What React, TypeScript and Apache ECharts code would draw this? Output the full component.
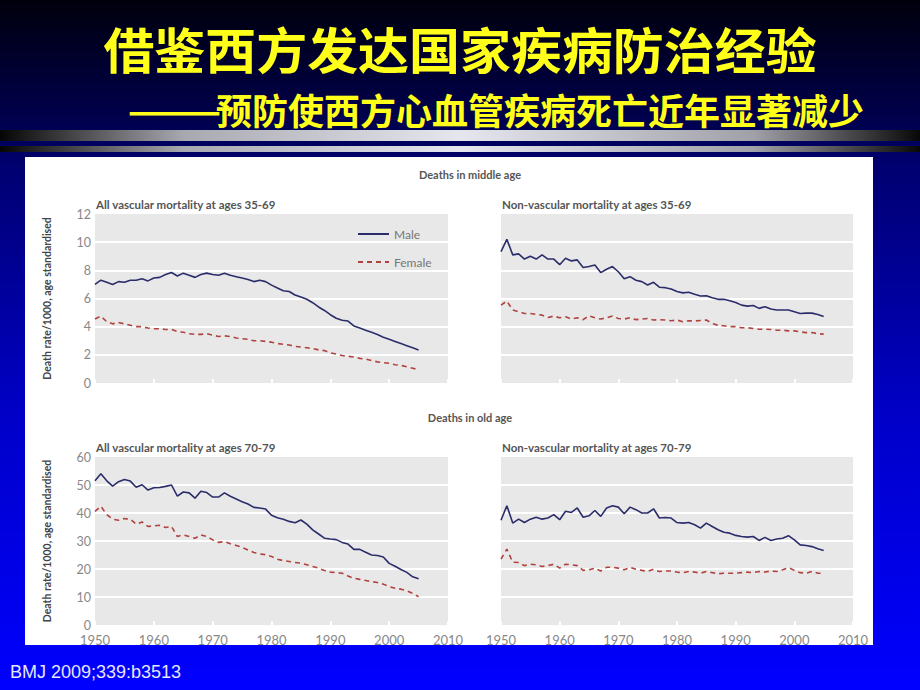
import React, { useEffect, useRef } from "react";
import * as echarts from "echarts";

const years: number[] = Array.from({ length: 56 }, (_, i) => 1950 + i);

const vascMidMale = [
  7.0, 7.3, 7.15, 7.0, 7.2, 7.15, 7.3, 7.3, 7.4, 7.25,
  7.45, 7.5, 7.7, 7.85, 7.6, 7.8, 7.65, 7.5, 7.7, 7.8,
  7.7, 7.65, 7.8, 7.65, 7.55, 7.45, 7.35, 7.2, 7.3, 7.2,
  6.95, 6.75, 6.55, 6.5, 6.25, 6.1, 5.95, 5.7, 5.4, 5.15,
  4.85, 4.6, 4.45, 4.4, 4.05, 3.9, 3.75, 3.6, 3.45, 3.25,
  3.1, 2.95, 2.8, 2.65, 2.5, 2.35,
];
const vascMidFemale = [
  4.55, 4.75, 4.35, 4.2, 4.3, 4.2, 4.1, 4.0, 4.0, 3.9,
  3.85, 3.85, 3.8, 3.8, 3.65, 3.6, 3.5, 3.45, 3.45, 3.5,
  3.4, 3.3, 3.35, 3.3, 3.2, 3.15, 3.1, 3.0, 3.0, 2.95,
  2.9, 2.8, 2.75, 2.7, 2.6, 2.55, 2.5, 2.45, 2.35, 2.3,
  2.15, 2.05, 1.95, 1.9, 1.85, 1.75, 1.7, 1.6, 1.5, 1.45,
  1.4, 1.3, 1.25, 1.15, 1.05, 0.95,
];
const nonvascMidMale = [
  9.33, 10.2, 9.1, 9.17, 8.8, 9.0, 8.8, 9.1, 8.8, 8.8,
  8.4, 8.86, 8.67, 8.74, 8.2, 8.27, 8.38, 7.84, 8.08, 8.27,
  7.9, 7.4, 7.55, 7.3, 7.2, 6.96, 7.15, 6.8, 6.77, 6.67,
  6.5, 6.4, 6.44, 6.3, 6.18, 6.2, 6.06, 5.94, 5.94, 5.84,
  5.72, 5.53, 5.46, 5.5, 5.3, 5.42, 5.25, 5.18, 5.18, 5.18,
  5.06, 4.94, 4.96, 4.96, 4.87, 4.73,
];
const nonvascMidFemale = [
  5.53, 5.82, 5.18, 5.06, 4.94, 4.94, 4.87, 4.82, 4.65, 4.75,
  4.63, 4.7, 4.54, 4.63, 4.5, 4.77, 4.63, 4.54, 4.63, 4.75,
  4.58, 4.54, 4.63, 4.5, 4.54, 4.58, 4.47, 4.5, 4.47, 4.42,
  4.47, 4.35, 4.42, 4.4, 4.44, 4.47, 4.23, 4.1, 4.06, 4.0,
  4.0, 3.92, 3.92, 3.87, 3.82, 3.82, 3.8, 3.75, 3.75, 3.7,
  3.7, 3.63, 3.58, 3.58, 3.5, 3.47,
];
const vascOldMale = [
  51.5, 54.0, 51.5, 49.6, 51.2, 52.0, 51.4, 49.2, 50.1, 48.2,
  49.0, 49.1, 49.5, 50.0, 46.0, 47.5, 47.2, 45.3, 47.8, 47.3,
  45.7, 45.7, 47.2, 46.0, 45.0, 44.0, 43.2, 42.0, 41.8, 41.4,
  39.2, 38.3, 37.8, 37.0, 36.5, 37.5, 36.0, 34.0, 32.5, 31.0,
  30.7, 30.5, 29.5, 28.9, 27.0, 27.0, 26.0, 25.0, 24.8, 24.3,
  22.0, 21.0, 19.8, 18.8, 17.2, 16.5,
];
const vascOldFemale = [
  40.6, 42.4, 39.4, 37.8, 37.4, 38.0, 37.8, 36.0, 36.8, 35.2,
  35.4, 35.6, 34.8, 35.2, 31.6, 32.2, 31.6, 31.0, 32.2, 31.6,
  30.4, 29.5, 29.8, 29.0, 28.4, 27.7, 26.8, 25.9, 25.4, 25.1,
  24.5, 23.5, 23.0, 22.7, 22.3, 22.1, 21.5, 20.9, 20.3, 19.5,
  18.9, 18.7, 18.5, 17.5, 16.7, 16.3, 15.9, 15.5, 15.2, 14.6,
  13.7, 13.1, 12.8, 12.2, 11.3, 10.1,
];
const nonvascOldMale = [
  37.4, 42.6, 36.4, 37.8, 36.6, 37.8, 38.5, 37.8, 38.2, 39.4,
  37.6, 40.6, 40.2, 41.8, 38.5, 39.0, 40.9, 38.8, 41.8, 42.6,
  42.1, 39.7, 42.1, 41.2, 40.0, 40.0, 41.5, 38.2, 38.4, 38.2,
  36.6, 36.4, 36.6, 35.8, 34.6, 36.4, 35.2, 34.0, 33.1, 32.8,
  32.0, 31.6, 31.4, 31.6, 30.2, 31.3, 30.2, 30.7, 31.0, 31.9,
  30.4, 28.6, 28.4, 28.0, 27.2, 26.6,
];
const nonvascOldFemale = [
  23.5, 27.1, 22.4, 22.3, 21.2, 21.7, 21.5, 20.9, 21.2, 21.7,
  20.3, 21.7, 21.5, 21.2, 19.5, 19.7, 20.3, 19.3, 20.6, 20.6,
  20.3, 19.7, 20.6, 19.9, 19.5, 19.1, 19.9, 19.1, 19.3, 19.3,
  18.9, 18.7, 19.1, 18.9, 18.5, 19.1, 18.7, 18.3, 18.5, 18.5,
  18.5, 18.7, 18.9, 18.7, 19.1, 18.9, 19.3, 19.1, 19.7, 20.5,
  19.5, 18.7, 18.5, 19.1, 18.5, 18.5,
];

const mainTitle = "借鉴西方发达国家疾病防治经验";
const subTitleDash = "——";
const subTitle = "预防使西方心血管疾病死亡近年显著减少";
const sectionTitles = ["Deaths in middle age", "Deaths in old age"];
const panelTitles = [
  "All vascular mortality at ages 35-69",
  "Non-vascular mortality at ages 35-69",
  "All vascular mortality at ages 70-79",
  "Non-vascular mortality at ages 70-79",
];
const yAxisTitle = "Death rate/1000, age standardised";
const citation = "BMJ 2009;339:b3513";

const MALE_COLOR = "#2b2d6b";
const FEMALE_COLOR = "#b0433f";
const FONT = "Lato";

const grids = [
  { left: 95, top: 214, width: 353, height: 169 },
  { left: 501, top: 214, width: 352, height: 169 },
  { left: 95, top: 457, width: 353, height: 168 },
  { left: 501, top: 457, width: 352, height: 168 },
];
const yMax = [12, 12, 60, 60];
const yInt = [2, 2, 10, 10];

const pairs = (vals: number[]) => years.map((y, i) => [y, vals[i]]);

export default function App() {
  const ref = useRef<HTMLDivElement>(null);
  useEffect(() => {
    if (!ref.current) return;
    const chart = echarts.init(ref.current, null, { renderer: "svg" });
    const seriesData = [
      [vascMidMale, vascMidFemale],
      [nonvascMidMale, nonvascMidFemale],
      [vascOldMale, vascOldFemale],
      [nonvascOldMale, nonvascOldFemale],
    ];
    const series: any[] = [];
    seriesData.forEach((pair, gi) => {
      series.push({
        type: "line",
        name: "Male",
        xAxisIndex: gi,
        yAxisIndex: gi,
        symbol: "none",
        data: pairs(pair[0]),
        lineStyle: { color: MALE_COLOR, width: 1.6 },
        itemStyle: { color: MALE_COLOR },
        z: 5,
      });
      series.push({
        type: "line",
        name: "Female",
        xAxisIndex: gi,
        yAxisIndex: gi,
        symbol: "none",
        data: pairs(pair[1]),
        lineStyle: { color: FEMALE_COLOR, width: 1.6, type: [5, 4] },
        itemStyle: { color: FEMALE_COLOR },
        z: 4,
      });
    });

    const textEl = (text: string, x: number, y: number, style: any, extra: any = {}) => ({
      type: "text",
      x,
      y,
      z: 100,
      ...extra,
      style: { text, ...style },
    });

    const barGradient = () =>
      new echarts.graphic.LinearGradient(0, 0, 1, 0, [
        { offset: 0, color: "#050505" },
        { offset: 0.2, color: "#a8a8b0" },
        { offset: 0.5, color: "#e6e6ee" },
        { offset: 0.82, color: "#a0a0a8" },
        { offset: 1, color: "#080808" },
      ]);

    const yellowStyle = {
      fill: "#ffff1a",
      verticalAlign: "middle",
      shadowColor: "rgba(0,0,0,0.8)",
      shadowOffsetX: 2,
      shadowOffsetY: 2,
      shadowBlur: 2,
    };

    const option: any = {
      animation: false,
      graphic: [
        {
          type: "rect",
          z: -100,
          shape: { x: 0, y: 0, width: 920, height: 690 },
          style: {
            fill: new echarts.graphic.LinearGradient(0, 0, 0, 1, [
              { offset: 0, color: "#00000c" },
              { offset: 0.18, color: "#000050" },
              { offset: 0.24, color: "#000070" },
              { offset: 0.6, color: "#0000c8" },
              { offset: 1, color: "#0000ff" },
            ]),
          },
        },
        {
          type: "rect",
          z: -90,
          shape: { x: 0, y: 130, width: 920, height: 11 },
          style: { fill: barGradient() },
        },
        {
          type: "rect",
          z: -90,
          shape: { x: 0, y: 146, width: 920, height: 6 },
          style: { fill: barGradient() },
        },
        {
          type: "rect",
          z: -80,
          shape: { x: 25, y: 157, width: 848, height: 488 },
          style: { fill: "#ffffff" },
        },
        textEl(mainTitle, 460, 47, {
          ...yellowStyle,
          font: `bold 49px "Noto Sans CJK SC"`,
          align: "center",
        }, { scaleX: 1.04 }),
        textEl(subTitle, 864, 109, {
          ...yellowStyle,
          font: `bold 36px "Noto Sans CJK SC"`,
          align: "right",
        }),
        textEl(subTitleDash, 222, 109, {
          ...yellowStyle,
          font: `bold 36px "Noto Sans CJK SC"`,
          align: "right",
        }, { scaleX: 1.55 }),
        textEl(sectionTitles[0], 470, 174, {
          fill: "#555555",
          font: `bold 11px ${FONT}`,
          align: "center",
          verticalAlign: "middle",
        }),
        textEl(sectionTitles[1], 470, 417, {
          fill: "#555555",
          font: `bold 11px ${FONT}`,
          align: "center",
          verticalAlign: "middle",
        }),
        ...panelTitles.map((t, i) =>
          textEl(t, grids[i].left + 1, grids[i].top - 10, {
            fill: "#555555",
            font: `bold 11.5px ${FONT}`,
            align: "left",
            verticalAlign: "middle",
          })
        ),
        textEl(citation, 10, 672, {
          fill: "#e6e6ff",
          font: `18px "Liberation Sans"`,
          align: "left",
          verticalAlign: "middle",
        }),
      ],
      legend: {
        orient: "vertical",
        left: 352,
        top: 223,
        itemWidth: 31,
        itemHeight: 12,
        itemGap: 16,
        data: ["Male", "Female"],
        itemStyle: { opacity: 0 },
        textStyle: { color: "#777777", fontSize: 12, fontFamily: FONT },
        selectedMode: false,
      },
      grid: grids.map((g) => ({
        ...g,
        show: true,
        backgroundColor: "#e8e8e8",
        borderWidth: 0,
        containLabel: false,
      })),
      xAxis: grids.map((_, i) => ({
        type: "value",
        gridIndex: i,
        min: 1950,
        max: 2010,
        interval: 10,
        axisLine: { show: false },
        axisTick: { show: true, inside: true, length: 4, lineStyle: { color: "#ffffff", width: 2 } },
        splitLine: { show: false },
        axisLabel: {
          show: i >= 2,
          color: "#888888",
          fontSize: 13,
          lineHeight: 13,
          fontFamily: FONT,
          margin: 8,
          formatter: (v: number) => String(v),
        },
      })),
      yAxis: grids.map((_, i) => ({
        type: "value",
        gridIndex: i,
        min: 0,
        max: yMax[i],
        interval: yInt[i],
        axisLine: { show: false },
        axisTick: { show: false },
        splitLine: {
          show: true,
          showMinLine: false,
          showMaxLine: false,
          lineStyle: { color: "#ffffff", width: 2 },
        },
        axisLabel: {
          show: i % 2 === 0,
          color: "#888888",
          fontSize: 12.5,
          lineHeight: 10,
          fontFamily: FONT,
          margin: 4,
        },
        name: i % 2 === 0 ? yAxisTitle : "",
        nameLocation: "middle",
        nameRotate: 90,
        nameGap: 43,
        nameTextStyle: { color: "#444444", fontSize: 10.5, fontWeight: "bold", fontFamily: FONT },
      })),
      series,
    };
    chart.setOption(option);
    return () => chart.dispose();
  }, []);
  return (
    <div
      ref={ref}
      style={{ position: "absolute", left: 0, top: 0, width: 920, height: 690 }}
    />
  );
}
